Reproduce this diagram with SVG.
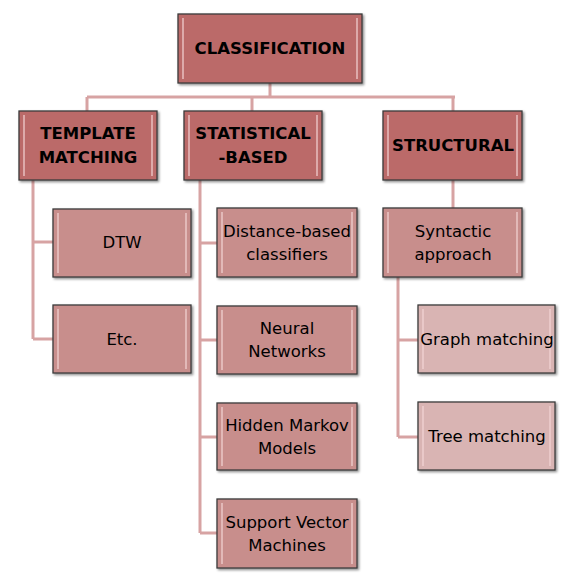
<svg xmlns="http://www.w3.org/2000/svg" width="578" height="579" viewBox="0 0 578 579">
<defs>
<filter id="sh" x="-10%" y="-10%" width="130%" height="130%">
<feDropShadow dx="1.5" dy="1.5" stdDeviation="1.2" flood-color="#000" flood-opacity="0.45"/>
</filter>
<style>
.c{fill:none;stroke:#d7a3a3;stroke-width:3}
.b{stroke:#3c3c3c;stroke-width:1.3;filter:url(#sh)}
.l1{fill:#bb6b69}
.l2{fill:#c88e8c}
.l3{fill:#d9b4b3}
.hi{fill:none;stroke:#f2d6d5;stroke-width:1.5;opacity:0.8}
.t{font-family:"DejaVu Sans","Liberation Sans",sans-serif;text-anchor:middle;fill:#000}
.h{font-size:16.5px;font-weight:bold}
.s{font-size:16.5px}
</style>
</defs>
<rect width="578" height="579" fill="#fff"/>
<g id="connectors">
<path class="c" d="M270 83V97M87 97H455M87 97V111M252 97V111M453 97V111"/>
<path class="c" d="M33 180V339M33 242H53M33 339H53"/>
<path class="c" d="M200 180V533M200 243H217M200 340H217M200 437H217M200 533H217"/>
<path class="c" d="M453 180V208M398 277V437M398 340H418M398 437H418"/>
</g>
<g id="classification">
<rect class="b l1" x="178" y="14" width="184" height="69"/>
<path class="hi" d="M183 18V79M357 18V79"/>
<text class="t h" x="270" y="54">CLASSIFICATION</text>
</g>
<g id="template">
<rect class="b l1" x="19" y="111" width="138" height="69"/>
<path class="hi" d="M24 115V176M152 115V176"/>
<text class="t h" x="88" y="139">TEMPLATE</text>
<text class="t h" x="88" y="163">MATCHING</text>
</g>
<g id="statistical">
<rect class="b l1" x="184" y="111" width="138" height="69"/>
<path class="hi" d="M189 115V176M317 115V176"/>
<text class="t h" x="253" y="139">STATISTICAL</text>
<text class="t h" x="253" y="163">-BASED</text>
</g>
<g id="structural">
<rect class="b l1" x="383" y="111" width="139" height="69"/>
<path class="hi" d="M388 115V176M517 115V176"/>
<text class="t h" x="453" y="151">STRUCTURAL</text>
</g>
<g id="dtw">
<rect class="b l2" x="53" y="209" width="138" height="68"/>
<path class="hi" d="M58 213V273M186 213V273"/>
<text class="t s" x="122" y="248">DTW</text>
</g>
<g id="etc">
<rect class="b l2" x="53" y="305" width="138" height="68"/>
<path class="hi" d="M58 309V369M186 309V369"/>
<text class="t s" x="122" y="345">Etc.</text>
</g>
<g id="distance">
<rect class="b l2" x="217" y="208" width="140" height="69"/>
<path class="hi" d="M222 212V273M352 212V273"/>
<text class="t s" x="287" y="237">Distance-based</text>
<text class="t s" x="287" y="260">classifiers</text>
</g>
<g id="neural">
<rect class="b l2" x="217" y="306" width="140" height="68"/>
<path class="hi" d="M222 310V370M352 310V370"/>
<text class="t s" x="287" y="334">Neural</text>
<text class="t s" x="287" y="357">Networks</text>
</g>
<g id="hmm">
<rect class="b l2" x="217" y="403" width="140" height="67"/>
<path class="hi" d="M222 407V466M352 407V466"/>
<text class="t s" x="287" y="431">Hidden Markov</text>
<text class="t s" x="287" y="454">Models</text>
</g>
<g id="svm">
<rect class="b l2" x="217" y="499" width="140" height="69"/>
<path class="hi" d="M222 503V564M352 503V564"/>
<text class="t s" x="287" y="528">Support Vector</text>
<text class="t s" x="287" y="551">Machines</text>
</g>
<g id="syntactic">
<rect class="b l2" x="383" y="208" width="139" height="69"/>
<path class="hi" d="M388 212V273M517 212V273"/>
<text class="t s" x="453" y="237">Syntactic</text>
<text class="t s" x="453" y="260">approach</text>
</g>
<g id="graph">
<rect class="b l3" x="418" y="305" width="137" height="68"/>
<path class="hi" d="M423 309V369M550 309V369"/>
<text class="t s" x="487" y="345">Graph matching</text>
</g>
<g id="tree">
<rect class="b l3" x="418" y="402" width="137" height="68"/>
<path class="hi" d="M423 406V466M550 406V466"/>
<text class="t s" x="487" y="442">Tree matching</text>
</g>
</svg>
